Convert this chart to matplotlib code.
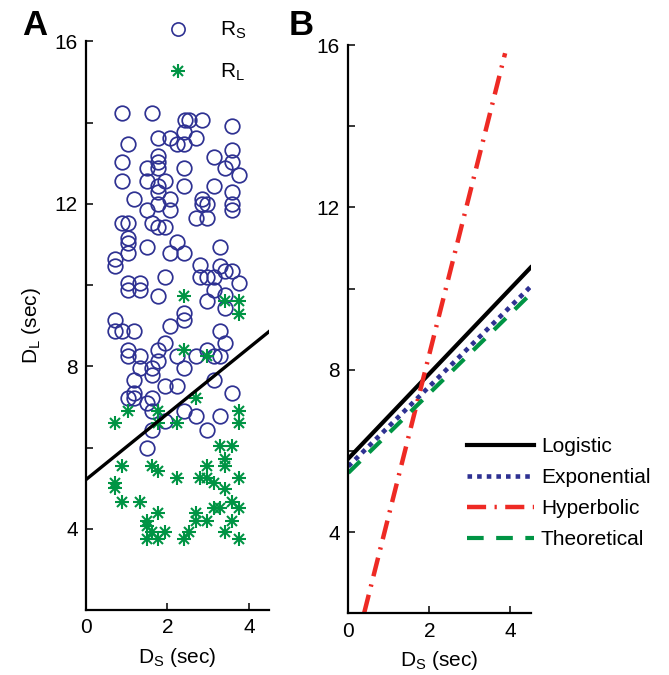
import numpy as np
import matplotlib
matplotlib.use('Agg')
import matplotlib.pyplot as plt
from matplotlib.lines import Line2D

plt.rcParams['font.family'] = ['Liberation Sans', 'DejaVu Sans']
plt.rcParams['mathtext.default'] = 'regular'
plt.rcParams['font.size'] = 15

# --- datos panel A: eleccion R_S (circulos) y R_L (asteriscos) ---
rs_x = [0.88, 1.62, 2.44, 2.52, 2.85, 2.40, 3.59, 1.78, 2.07, 2.69, 1.04, 2.23, 2.40,
        3.14, 3.59, 1.78, 0.88, 1.78, 3.59, 1.49, 1.78, 2.40, 3.42, 3.75, 0.88, 1.49,
        1.95, 1.78, 2.40, 3.14, 1.78, 3.59, 1.17, 2.07, 2.85, 2.85, 2.97, 1.78, 3.59,
        3.59, 1.49, 2.07, 0.88, 1.04, 2.69, 2.97, 1.62, 1.78, 1.95,
        1.04, 1.04, 2.23, 1.49, 2.07, 2.40, 3.30, 1.04, 0.71, 0.71, 2.81, 3.30, 2.81,
        2.97, 3.14, 3.42, 3.59, 3.75, 1.95, 1.04, 1.33, 1.04, 1.33, 3.14, 1.78, 3.42,
        2.97, 3.42, 2.40, 2.40, 0.71, 0.71, 0.88, 1.17, 2.07, 3.30, 3.42, 1.95,
        1.04, 1.78, 2.97, 1.04, 1.33, 2.23, 2.69, 3.14, 3.30, 1.78, 1.33, 1.62, 2.40,
        1.62, 1.17, 3.14, 1.95, 2.23, 3.59, 1.04, 1.17, 1.17, 1.62, 1.49, 1.62, 2.40,
        2.69, 3.30, 1.95, 1.62, 2.97, 1.49]
rs_y = [14.23, 14.23, 14.07, 14.07, 14.07, 13.78, 13.92, 13.62, 13.62, 13.62, 13.47, 13.47, 13.47,
        13.16, 13.33, 13.19, 13.02, 13.02, 13.02, 12.88, 12.88, 12.88, 12.88, 12.71, 12.57, 12.57,
        12.57, 12.43, 12.43, 12.43, 12.30, 12.30, 12.12, 12.12, 12.12, 11.99, 11.99, 11.99, 11.99,
        11.85, 11.84, 11.84, 11.54, 11.54, 11.66, 11.66, 11.54, 11.43, 11.43,
        11.16, 11.03, 11.07, 10.94, 10.79, 10.79, 10.94, 10.79, 10.64, 10.48, 10.50, 10.48, 10.21,
        10.21, 10.21, 10.34, 10.34, 10.05, 10.20, 10.05, 10.05, 9.89, 9.89, 9.89, 9.74, 9.76,
        9.60, 9.44, 9.31, 9.15, 9.15, 8.86, 8.86, 8.86, 8.98, 8.86, 8.58, 8.58,
        8.41, 8.41, 8.41, 8.25, 8.25, 8.25, 8.25, 8.25, 8.25, 8.12, 7.96, 7.96, 7.96,
        7.79, 7.67, 7.67, 7.51, 7.51, 7.35, 7.23, 7.35, 7.23, 7.23, 7.10, 6.90, 6.90,
        6.77, 6.77, 6.65, 6.44, 6.44, 5.99]

rl_x = [2.40, 3.42, 3.75, 3.75, 2.40, 2.97, 2.69, 1.04, 1.78, 3.75, 0.71, 1.78, 2.23,
        3.75, 3.30, 3.59, 3.42, 0.88, 1.62, 1.78, 2.97, 3.42, 2.23, 2.81, 2.97, 3.75,
        3.14, 0.71, 0.71, 3.42, 0.88, 1.33, 3.59, 3.14, 3.30, 3.75, 1.78, 2.69, 2.69,
        2.97, 3.59, 1.49, 1.49, 1.62, 1.95, 2.52, 3.42, 1.49, 1.78, 2.40, 3.75]
rl_y = [9.74, 9.60, 9.60, 9.29, 8.41, 8.25, 7.22, 6.89, 6.89, 6.89, 6.61, 6.61, 6.61,
        6.61, 6.03, 6.03, 5.71, 5.54, 5.54, 5.42, 5.54, 5.54, 5.25, 5.25, 5.25, 5.25,
        5.13, 5.13, 5.01, 4.97, 4.65, 4.65, 4.65, 4.52, 4.52, 4.52, 4.38, 4.38, 4.19,
        4.20, 4.20, 4.19, 4.06, 3.92, 3.92, 3.92, 3.92, 3.75, 3.75, 3.75, 3.75]

# frontera de decision del panel A
fit_x = [0, 4.5]
fit_y = [5.21, 8.86]

# --- datos panel B: fronteras de cada modelo ---
ds_line = [0, 4.5]
logistic = [5.81, 10.52]
exponential = [5.62, 10.05]
theoretical = [5.46, 9.87]
hyp_x = [0.39, 3.87]
hyperbolic = [2.0, 15.8]

blue = '#2E3192'
green = '#009444'
red = '#EE2A24'

fig = plt.figure(figsize=(6.69, 6.75), dpi=100)
axA = fig.add_axes([0.1285, 0.0963, 0.274, 0.8424])
axB = fig.add_axes([0.5206, 0.0914, 0.2726, 0.8418])

# panel A
axA.plot(rs_x, rs_y, 'o', mfc='none', mec=blue, ms=10.5, mew=1.25, clip_on=False)
axA.plot(rl_x, rl_y, '+', color=green, ms=10.5, mew=1.5)
axA.plot(rl_x, rl_y, 'x', color=green, ms=7, mew=1.5)
axA.plot(fit_x, fit_y, color='black', lw=2.4)

h_rs = Line2D([], [], ls='none', marker='o', mfc='none', mec=blue, ms=9.5, mew=1.2)
h_rl = (Line2D([], [], ls='none', marker='+', color=green, ms=10, mew=1.5),
        Line2D([], [], ls='none', marker='x', color=green, ms=6.5, mew=1.5))
axA.legend([h_rs, h_rl], ['$R_S$', '$R_L$'], loc='upper left',
           bbox_to_anchor=(157 / 669, 1 - 20 / 675), bbox_transform=fig.transFigure,
           frameon=False, handlelength=2.0, handletextpad=1.0, labelspacing=1.0,
           borderpad=0, borderaxespad=0, fontsize=15)

# panel B
axB.plot(ds_line, logistic, color='black', lw=3, label='Logistic')
axB.plot(ds_line, exponential, color=blue, lw=3.3, ls=(0, (1.0, 1.1)), label='Exponential')
axB.plot(hyp_x, hyperbolic, color=red, lw=3.2, ls=(0, (4.3, 1.9, 0.5, 1.9)), label='Hyperbolic')
axB.plot(ds_line, theoretical, color=green, lw=3, ls=(0, (4, 3)), label='Theoretical')
axB.legend(loc='upper left', bbox_to_anchor=(467 / 669, 1 - 437 / 675),
           bbox_transform=fig.transFigure, frameon=False, handlelength=3.2,
           handletextpad=0.35, labelspacing=0.58, borderpad=0, borderaxespad=0,
           fontsize=15)

for ax in (axA, axB):
    ax.set_xlim(0, 4.5)
    ax.set_ylim(2, 16)
    ax.set_xticks([0, 2, 4])
    ax.set_yticks([4, 6, 8, 10, 12, 14, 16])
    ax.set_yticklabels(['4', '', '8', '', '12', '', '16'])
    ax.spines['top'].set_visible(False)
    ax.spines['right'].set_visible(False)
    ax.spines['left'].set_linewidth(1.6)
    ax.spines['bottom'].set_linewidth(1.6)
    ax.tick_params(direction='in', length=5, width=1.1, labelsize=15, pad=6)
    ax.set_xlabel('$D_S$ (sec)', fontsize=15, labelpad=6)

axA.set_ylabel('$D_L$ (sec)', fontsize=15, labelpad=8)

fig.text(22 / 669, 1 - 35 / 675, 'A', fontsize=25, fontweight='bold')
fig.text(289 / 669, 1 - 35 / 675, 'B', fontsize=25, fontweight='bold')

fig.savefig('out.png', dpi=100)
